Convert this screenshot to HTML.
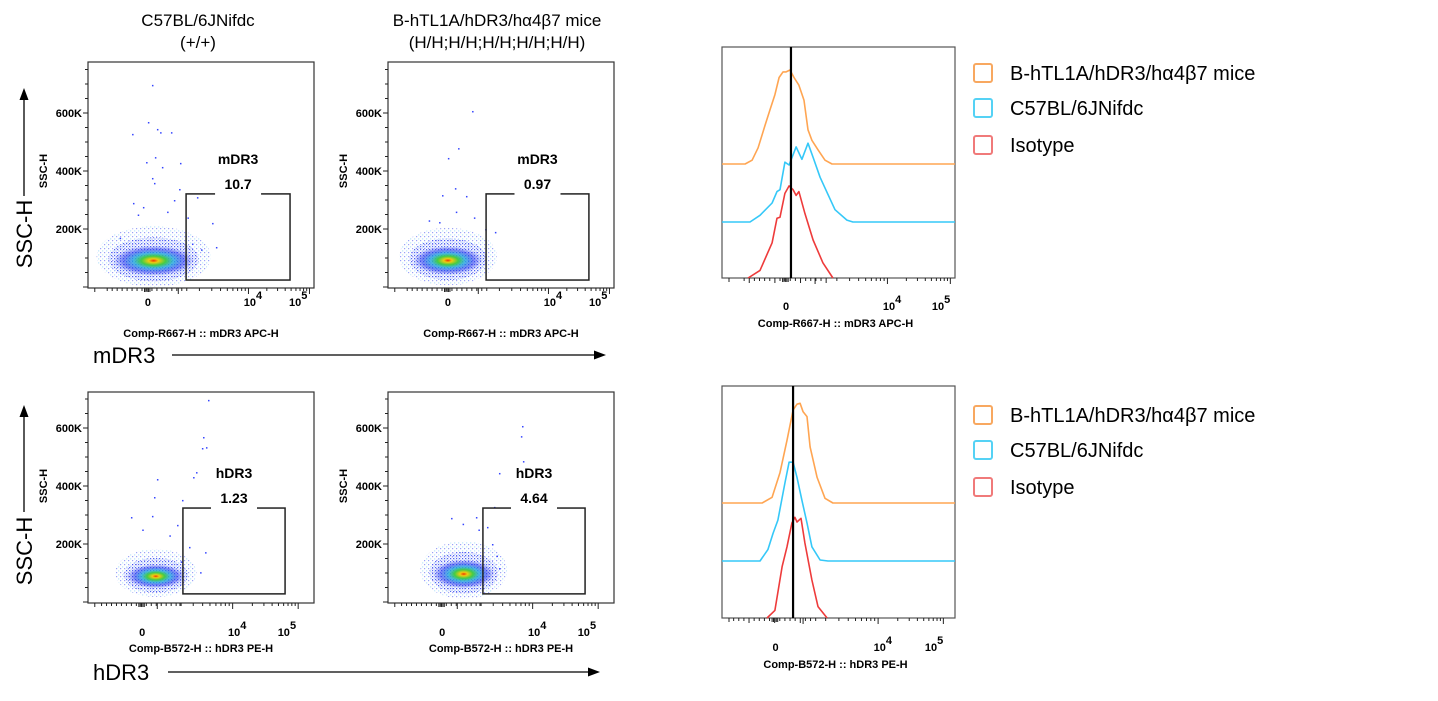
<!DOCTYPE html>
<html><head><meta charset="utf-8">
<style>
html,body{margin:0;padding:0;background:#fff;}
svg{display:block;font-family:"Liberation Sans",Arial,sans-serif;}
.b{font-weight:bold;font-size:11px;}
</style></head>
<body>
<svg id="fig" width="1438" height="701" viewBox="0 0 1438 701" xmlns="http://www.w3.org/2000/svg">
<defs>
<pattern id="dots" width="3" height="3" patternUnits="userSpaceOnUse"><rect x="0" y="0" width="1.2" height="1.2" fill="#2233ee"/><rect x="1.6" y="1.6" width="1" height="1" fill="#3344ff" opacity="0.7"/></pattern>
<pattern id="dots2" width="4" height="4" patternUnits="userSpaceOnUse"><rect x="0" y="0" width="1.2" height="1.2" fill="#2233ee"/><rect x="2.2" y="2.4" width="1" height="1" fill="#22aaee"/></pattern>
<radialGradient id="dens" cx="50%" cy="50%" r="50%">
<stop offset="0" stop-color="#ee3300"/><stop offset="0.12" stop-color="#eecc11"/><stop offset="0.3" stop-color="#44cc44"/><stop offset="0.5" stop-color="#22aadd" stop-opacity="0.8"/><stop offset="0.75" stop-color="#2233ee" stop-opacity="0.55"/><stop offset="1" stop-color="#2233ee" stop-opacity="0"/>
</radialGradient>
</defs>
<text x="198" y="26" font-size="17" text-anchor="middle">C57BL/6JNifdc</text>
<text x="198" y="48" font-size="17" text-anchor="middle">(+/+)</text>
<text x="497" y="26" font-size="17" text-anchor="middle">B-hTL1A/hDR3/hα4β7 mice</text>
<text x="497" y="48" font-size="17" text-anchor="middle">(H/H;H/H;H/H;H/H;H/H)</text>
<g id="root"></g>
</svg>
<script>
// ---------- DATA ----------
// scatter clusters: [centerChannel, centerK, spreadChannel, spreadK]
const clusterA1 = [29.0, 105, 21, 95];
const clusterA2 = [26.5, 105, 18, 90];
const clusterB1 = [30, 100, 15, 75];
const clusterB2 = [33.5, 110, 16, 90];
// sparse events [channel, K]
const outliersA1 = [[28.3,697],[26.5,569],[30.5,545],[31.9,534],[36.7,534],[19.5,528],[29.6,448],[25.7,431],[32.7,414],[40.7,428],[28.3,376],[29.2,359],[40.3,338],[19.9,290],[24.3,276],[48.2,310],[54.9,221],[56.6,138],[22,250],[35,260],[44,240],[46,150],[50,130],[14,170],[38,300]];
const outliersA2 = [[37.2,607],[31,479],[26.5,445],[29.6,341],[23.9,317],[34.5,314],[22.6,224],[47.3,190],[30,260],[38,240],[18,230],[43,200]];
const outliersB1 = [[53.1,697],[50.9,569],[50.4,531],[52.2,534],[47.8,448],[46.5,431],[30.5,424],[41.6,352],[29.2,362],[19.0,293],[28.3,297],[39.4,266],[51.8,172],[49.6,103],[44.7,190],[24,250],[36,230],[41,140]];
const outliersB2 = [[59.3,607],[58.8,572],[59.7,486],[49.1,445],[46.9,328],[38.9,293],[27.9,290],[43.8,259],[49.1,117],[33,270],[40,250],[46,200],[48,160]];
// gates [x0,x1,yK0,yK1]
const gateA1 = [43.4, 89.4, 24, 321];
const gateA2 = [43.4, 88.9, 24, 321];
const gateB1 = [42.0, 87.2, 28, 324];
const gateB2 = [42.0, 87.2, 28, 324];
const gateNames = ["mDR3","mDR3","hDR3","hDR3"];
const gateValues = ["10.7","0.97","1.23","4.64"];
const yTickLabels = ["600K","400K","200K"];
const yTickValues = [600,400,200];
// histograms: channel positions and densities
const hTopOrangeX = [0,9.9,12.9,15.5,18.5,20.6,22.7,24.5,26.2,27.5,29.2,30.9,33.0,35.2,36.9,38.6,41.2,44.2,47.2,100];
const hTopOrangeY = [0,0,4,17,41,57,73,91,97,97,99,91,83,67,36,25,15,4,0,0];
const hTopCyanX = [0,12.0,16.3,21.5,23.6,24.9,27.0,28.8,31.8,34.3,36.9,39.1,42.1,45.1,48.5,53.6,56.2,100];
const hTopCyanY = [0,0,7,20,32,34,63,60,79,66,83,68,47,31,13,2,0,0];
const hTopRedX = [11.2,16.3,21.5,23.6,24.9,27.0,28.8,30.5,31.8,33.0,35.6,39.1,43.3,47.6];
const hTopRedY = [0,8,37,63,64,89,97,93,87,91,68,40,16,0];
const hBotOrangeX = [0,17.2,21.5,24.9,27.9,30.5,32.2,33.5,34.8,36.5,37.8,40.8,44.2,47.6,100];
const hBotOrangeY = [0,0,6,32,66,98,104,105,96,91,59,27,5,0,0];
const hBotCyanX = [0,16.3,19.7,21.9,24.0,27.0,28.8,30.5,32.2,34.3,36.5,38.6,42.1,45.5,100];
const hBotCyanY = [0,0,12,29,43,82,104,104,88,64,40,15,1,0,0];
const hBotRedX = [19.3,22.7,25.8,27.9,30.0,31.3,32.2,33.9,35.6,38.6,41.2,45.1];
const hBotRedY = [0,8,54,75,100,106,101,105,79,40,12,0];
const markerTop = 29.6, markerBot = 30.5;
const legendLabels = ["B-hTL1A/hDR3/hα4β7 mice","C57BL/6JNifdc","Isotype"];
const legendColors = ["#f8a860","#55d2f5","#f07a7a"];
const lineColors = ["#ffa552","#35c8f8","#ee3b3b"];

// ---------- DRAW ----------
const NS="http://www.w3.org/2000/svg";
const root=document.getElementById('root');
function el(tag,attrs,parent){const e=document.createElementNS(NS,tag);for(const k in attrs)e.setAttribute(k,attrs[k]);(parent||root).appendChild(e);return e;}
function txt(x,y,s,cls,anchor,parent){const t=el('text',{x:x,y:y,'text-anchor':anchor||'middle'},parent);if(cls)t.setAttribute('class',cls);t.textContent=s;return t;}
function pow10(x,y,e,parent){const t=el('text',{x:x,y:y,'text-anchor':'middle',class:'b'},parent);t.textContent='10';const s=document.createElementNS(NS,'tspan');s.setAttribute('dy','-7');s.textContent=e;t.appendChild(s);return t;}

function xTicks(g,sx,y,c0,c10k,c100k,cmax){
  const ticks=[];
  const neg=sx(3);ticks.push([neg,4]);
  for(let c=c0-18;c<=c0+18;c+=2.2)ticks.push([sx(c),c%11<1?5:3]);
  for(let c=c0-1.5;c<=c0+1.5;c+=0.6)ticks.push([sx(c),4]);
  const cd=c10k-(c100k-c10k)*1.15;
  [[cd,c10k],[c10k,c100k],[c100k,c100k+(c100k-c10k)]].forEach(([a,b])=>{
    ticks.push([sx(a),6]);
    for(let k=2;k<10;k++){const c=a+(b-a)*Math.log10(k);if(c<=cmax)ticks.push([sx(c),3]);}
  });
  ticks.forEach(([x,l])=>{if(x>=sx(0)&&x<=sx(cmax))el('line',{x1:x,x2:x,y1:y,y2:y+l,stroke:'#222','stroke-width':1},g);});
}

function scatter(name,x0,x1,yTop,yZero,cluster,outliers,gate,gi,xl){
  const g=el('g',{});
  
  
  const sx=c=>x0+c*(x1-x0)/100, sy=k=>yZero-k*0.29;
  const pb=el('rect',{x:x0,y:yTop,width:x1-x0,height:yZero-yTop+1,fill:'#fff',stroke:'#333','stroke-width':1.2},g);
  
  
  const cg=el('g',{},g);
  
  
  const cx=sx(cluster[0]),cy=sy(cluster[1]),rx=cluster[2]*(x1-x0)/100,ry=cluster[3]*0.29;
  el('ellipse',{cx:cx,cy:cy,rx:rx*1.2,ry:ry*1.1,fill:'url(#dots2)',opacity:0.45},cg);
  el('ellipse',{cx:cx,cy:cy+ry*0.1,rx:rx*0.95,ry:ry*0.8,fill:'url(#dots)',opacity:0.75},cg);
  el('ellipse',{cx:cx,cy:cy+ry*0.15,rx:rx*0.85,ry:ry*0.55,fill:'url(#dens)'},cg);
  outliers.forEach(p=>{const d=el('rect',{x:sx(p[0]),y:sy(p[1]),width:1.5,height:1.5,fill:'#3344ff'},g);
    
    });
  for(let k=0;k<=750;k+=50){if(sy(k)<yTop)break;const ly=sy(k);el('line',{x1:x0-(k%200==0?5:3),x2:x0,y1:ly,y2:ly,stroke:'#222'},g);}
  yTickValues.forEach((v,i)=>{const t=txt(x0-6,sy(v)+4,yTickLabels[i],'b','end',g);
    
    });
  const yt=el('text',{x:0,y:0,class:'b','text-anchor':'middle',transform:`translate(${x0-41},${sy(400)}) rotate(-90)`,'font-size':'10'},g);
  yt.textContent='SSC-H';
  
  
  xTicks(g,sx,yZero+1,xl.zero,xl.t4-2,xl.t5+5,100);
  const gx0=sx(gate[0]),gx1=sx(gate[1]),gy0=sy(gate[3]),gy1=sy(gate[2]);
  const gr=el('rect',{x:gx0,y:gy0,width:gx1-gx0,height:gy1-gy0,fill:'none',stroke:'#222','stroke-width':1.5},g);
  
  
  const mx=(gx0+gx1)/2;
  el('rect',{x:mx-23,y:gy0-3,width:46,height:6,fill:'#fff'},g);
  const gn=txt(mx,gy0-30,gateNames[gi],null,'middle',g);gn.setAttribute('font-weight','bold');gn.setAttribute('font-size','14');
  
  
  const gv=txt(mx,gy0-5,gateValues[gi],null,'middle',g);gv.setAttribute('font-weight','bold');gv.setAttribute('font-size','14');
  
  
  const lb=yZero+xl.dy;
  txt(sx(xl.zero),lb,'0','b','middle',g);
  pow10(sx(xl.t4),lb,'4',g);pow10(sx(xl.t5),lb,'5',g);
  const xt=txt((x0+x1)/2,lb+xl.ty,xl.title,'b','middle',g);
  
  
}

scatter('scatter-mdr3-wildtype',88,314,62,287,clusterA1,outliersA1,gateA1,0,{zero:26.5,t4:73,t5:93,dy:19,ty:31,title:'Comp-R667-H :: mDR3 APC-H'});
scatter('scatter-mdr3-humanized',388,614,62,287,clusterA2,outliersA2,gateA2,1,{zero:26.5,t4:73,t5:93,dy:19,ty:31,title:'Comp-R667-H :: mDR3 APC-H'});
scatter('scatter-hdr3-wildtype',88,314,392,602,clusterB1,outliersB1,gateB1,2,{zero:24,t4:66,t5:88,dy:34,ty:16,title:'Comp-B572-H :: hDR3 PE-H'});
scatter('scatter-hdr3-humanized',388,614,392,602,clusterB2,outliersB2,gateB2,3,{zero:24,t4:66,t5:88,dy:34,ty:16,title:'Comp-B572-H :: hDR3 PE-H'});

function hist(name,x0,x1,yTop,yBot,bases,series,marker,xl){
  const g=el('g',{});
  
  
  const sx=c=>x0+c*(x1-x0)/100;
  const fr=el('rect',{x:x0,y:yTop,width:x1-x0,height:yBot-yTop,fill:'#fff',stroke:'#555','stroke-width':1.2},g);
  
  
  series.forEach((s,i)=>{
    const sy=d=>bases[i]-d*0.95;
    const pts=s[0].map((c,j)=>sx(c).toFixed(1)+','+sy(s[1][j]).toFixed(1)).join(' ');
    const p=el('polyline',{points:pts,fill:'none',stroke:lineColors[i],'stroke-width':1.6,'stroke-linejoin':'round'},g);
    
    
  });
  const m=el('line',{x1:sx(marker),x2:sx(marker),y1:yTop,y2:yBot,stroke:'#000','stroke-width':2.2},g);
  
  
  xTicks(g,sx,yBot,xl.zero,xl.t4-2,xl.t5+4,100);
  const lb=yBot+xl.dy;
  txt(sx(xl.zero),lb,'0','b','middle',g);
  pow10(sx(xl.t4),lb,'4',g);pow10(sx(xl.t5),lb,'5',g);
  const xt=txt((x0+x1)/2-3,lb+xl.ty,xl.title,'b','middle',g);
  
  
}
hist('histogram-mdr3',722,955,47,278,[164,222,278],[[hTopOrangeX,hTopOrangeY],[hTopCyanX,hTopCyanY],[hTopRedX,hTopRedY]],markerTop,{zero:27.5,t4:73,t5:94,dy:32,ty:17,title:'Comp-R667-H :: mDR3 APC-H'});
hist('histogram-hdr3',722,955,386,618,[503,561,618],[[hBotOrangeX,hBotOrangeY],[hBotCyanX,hBotCyanY],[hBotRedX,hBotRedY]],markerBot,{zero:23,t4:69,t5:91,dy:33,ty:17,title:'Comp-B572-H :: hDR3 PE-H'});

function legend(name,ys){
  const g=el('g',{});
  
  
  legendLabels.forEach((l,i)=>{
    const r=el('rect',{x:974,y:ys[i]-9,width:18,height:18,rx:2,fill:'#fff',stroke:legendColors[i],'stroke-width':2},g);
    
    
    const t=el('text',{x:1010,y:ys[i]+7,'font-size':20},g);t.textContent=l;
    
    
  });
}
legend('legend-mdr3',[73,108,145]);
legend('legend-hdr3',[415,450,487]);

function vlabel(name,cy,yFrom,yTip){
  const t=el('text',{x:0,y:0,'font-size':22,'text-anchor':'middle',transform:`translate(32,${cy}) rotate(-90)`});t.textContent='SSC-H';
  
  
  el('line',{x1:24,x2:24,y1:yFrom,y2:yTip+10,stroke:'#000','stroke-width':1.3});
  el('polygon',{points:`${24},${yTip} ${19.5},${yTip+12} ${28.5},${yTip+12}`,fill:'#000'});
}
vlabel('y-axis-label-top',234,196,88);
vlabel('y-axis-label-bottom',551,512,405);
function hlabel(name,s,y,xFrom,xTip){
  const t=el('text',{x:93,y:y+8,'font-size':22});t.textContent=s;
  
  
  el('line',{x1:xFrom,x2:xTip-10,y1:y,y2:y,stroke:'#000','stroke-width':1.3});
  el('polygon',{points:`${xTip},${y} ${xTip-12},${y-4.5} ${xTip-12},${y+4.5}`,fill:'#000'});
}
hlabel('x-axis-label-mdr3','mDR3',355,172,606);
hlabel('x-axis-label-hdr3','hDR3',672,168,600);
</script>
</body></html>
